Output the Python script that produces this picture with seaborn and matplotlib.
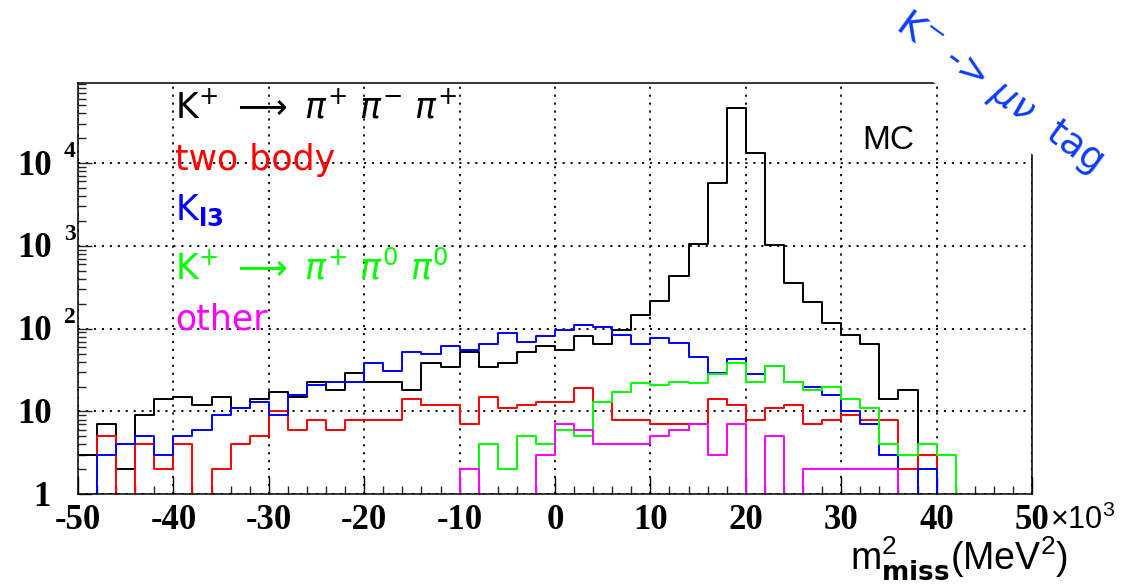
import numpy as np
import pandas as pd
import matplotlib
matplotlib.use("Agg")
import matplotlib.pyplot as plt
import seaborn as sns
from matplotlib import ticker, transforms

# ---- histogram contents: 50 bins of 2x10^3 MeV^2 between -50 and 50 (x10^3) ----
bin_edges = list(np.linspace(-50, 50, 51))

k3pi_charged = [3, 7, 2, 9, 14, 15, 12, 15, 11, 14,
                17, 15, 23, 18, 29, 23, 23, 18, 38, 34,
                52, 34, 39, 52, 61, 56, 81, 66, 96, 147,
                216, 434, 1055, 5700, 45900, 13400, 1030, 359, 212, 116,
                85, 66, 14, 18, 0, 0, 0, 0, 0, 0]
two_body = [0, 5, 0, 4, 2, 4, 0, 2, 4, 5,
            10, 6, 8, 6, 8, 8, 8, 14, 12, 12,
            7, 15, 11, 12, 13, 13, 19, 13, 8, 8,
            7, 7, 7, 14, 12, 8, 11, 12, 7, 8,
            9, 8, 8, 2, 3, 0, 0, 0, 0, 0]
k_l3 = [0, 3, 4, 5, 3, 5, 6, 9, 11, 13,
        9, 16, 21, 23, 23, 38, 31, 52, 49, 62,
        55, 66, 88, 70, 81, 96, 112, 106, 85, 65,
        78, 68, 46, 29, 43, 28, 35, 23, 20, 16,
        10, 7, 3, 0, 2, 0, 0, 0, 0, 0]
k3pi_neutral = [0, 0, 0, 0, 0, 0, 0, 0, 0, 0,
                0, 0, 0, 0, 0, 0, 0, 0, 0, 0,
                0, 4, 2, 5, 4, 6, 5, 13, 17, 22,
                21, 23, 22, 28, 38, 23, 35, 23, 18, 20,
                14, 11, 4, 3, 4, 3, 0, 0, 0, 0]
other = [0, 0, 0, 0, 0, 0, 0, 0, 0, 0,
         0, 0, 0, 0, 0, 0, 0, 0, 0, 0,
         2, 0, 0, 0, 3, 7, 6, 4, 4, 4,
         5, 6, 7, 3, 7, 0, 5, 0, 2, 2,
         2, 2, 2, 0, 0, 0, 0, 0, 0, 0]

series_labels = [r"K$^{+}$ $\longrightarrow$ $\pi^{+}$ $\pi^{-}$ $\pi^{+}$",
                 "two body",
                 r"K$_{\mathbf{l3}}$",
                 r"K$^{+}$ $\longrightarrow$ $\pi^{+}$ $\pi^{0}$ $\pi^{0}$",
                 "other"]
series_colors = ["#000000", "#ff0000", "#0000ff", "#00ff00", "#ff00ff"]

xtick_values = [-50, -40, -30, -20, -10, 0, 10, 20, 30, 40, 50]
xtick_labels = ["-50", "-40", "-30", "-20", "-10", "0", "10", "20", "30", "40", "50"]
ytick_values = [1, 10, 100, 1000, 10000]
ytick_base = ["1", "10", "10", "10", "10"]
ytick_exp = ["", "", "2", "3", "4"]

W, H = 1138, 584


def fig_xy(x, y):
    """Pixel position (from top-left) to figure fraction."""
    return x / W, 1 - y / H


sns.set_theme(style="white")
plt.rcParams["font.family"] = ["DejaVu Sans"]
plt.rcParams["mathtext.fontset"] = "dejavusans"

fig = plt.figure(figsize=(W / 100, H / 100), dpi=100)
fig.patch.set_facecolor("white")
ax_left, ax_right, ax_top, ax_bottom = 78, 1032, 82.7, 494.3
ax = fig.add_axes([ax_left / W, 1 - ax_bottom / H,
                   (ax_right - ax_left) / W, (ax_bottom - ax_top) / H])
ax.set_facecolor("white")

centers = [0.5 * (a + b) for a, b in zip(bin_edges[:-1], bin_edges[1:])]
hist_data = pd.DataFrame({
    "m2miss": centers,
    "k3pi_charged": k3pi_charged,
    "two_body": two_body,
    "k_l3": k_l3,
    "k3pi_neutral": k3pi_neutral,
    "other": other,
})
for col, color in zip(["k3pi_charged", "two_body", "k_l3", "k3pi_neutral", "other"],
                      series_colors):
    sns.histplot(data=hist_data, x="m2miss", weights=col, bins=bin_edges,
                 element="step", fill=False, color=color, linewidth=1.4, ax=ax)

ax.set_yscale("log")
ax.set_xlim(-50, 50)
ax.set_ylim(1, 9.35e4)
ax.set_xlabel("")
ax.set_ylabel("")

# frame and ticks
for side in ["left", "right", "top", "bottom"]:
    ax.spines[side].set_visible(True)
    ax.spines[side].set_color("black")
    ax.spines[side].set_linewidth(1.1)

ax.set_xticks(xtick_values, labels=xtick_labels)
ax.xaxis.set_minor_locator(ticker.MultipleLocator(2))
ax.yaxis.set_major_locator(ticker.FixedLocator(ytick_values))
ax.yaxis.set_minor_locator(ticker.LogLocator(base=10, subs=np.arange(2, 10), numticks=20))
ax.yaxis.set_major_formatter(ticker.NullFormatter())
ax.yaxis.set_minor_formatter(ticker.NullFormatter())

ax.tick_params(axis="x", which="major", direction="in", length=12, width=1.0,
               top=False, bottom=True, pad=7, labelsize=25, colors="black")
ax.tick_params(axis="x", which="minor", direction="in", length=6, width=1.0,
               top=False, bottom=True)
ax.tick_params(axis="y", which="major", direction="in", length=10, width=1.0,
               left=True, right=False)
ax.tick_params(axis="y", which="minor", direction="in", length=5.5, width=1.0,
               left=True, right=False)
for lab in ax.get_xticklabels():
    lab.set_fontfamily("Liberation Serif")
    lab.set_fontweight("bold")

# dotted grid on major divisions
ax.grid(True, which="major", axis="both", color="black",
        linestyle=(0, (1.2, 3.2)), linewidth=1.3)
ax.set_axisbelow(True)

# y tick labels in ROOT style: "10" with a raised exponent
ylab_tr = transforms.blended_transform_factory(fig.transFigure, ax.transData)
for val, base, exp in zip(ytick_values, ytick_base, ytick_exp):
    base_tr = transforms.offset_copy(ylab_tr, fig=fig, x=0, y=-11.5, units="dots")
    right_px = 50 if base == "1" else 52
    ax.text(right_px / W, val, base, transform=base_tr, ha="right", va="baseline",
            fontsize=25, fontweight="bold", fontfamily="Liberation Serif",
            color="black", clip_on=False)
    if exp:
        exp_tr = transforms.offset_copy(ylab_tr, fig=fig, x=0, y=6, units="dots")
        ax.text(64 / W, val, exp, transform=exp_tr, ha="left", va="baseline",
                fontsize=17, fontweight="bold", fontfamily="Liberation Serif",
                color="black", clip_on=False)

# x10^3 multiplier and axis title
fig.text(*fig_xy(1050, 529), r"×10$^{\mathregular{3}}$", ha="left", va="baseline",
         fontsize=22, fontfamily="Liberation Sans", color="black")
fig.text(*fig_xy(1068, 570), r"m$^{\mathregular{2}}_{\mathbf{miss}}$(MeV$^{\mathregular{2}}$)",
         ha="right", va="baseline", fontsize=27, fontfamily="Liberation Sans",
         color="black")

# component labels
label_baselines = [118, 170, 220, 279, 330]
for text, color, yb in zip(series_labels, series_colors, label_baselines):
    fig.text(*fig_xy(175, yb), text, ha="left", va="baseline", fontsize=25,
             color=color, fontfamily="DejaVu Sans")

fig.text(*fig_xy(862, 149), "MC", ha="left", va="baseline", fontsize=24,
         fontfamily="Liberation Sans", color="black")

# tag annotation across the upper-right corner
fig.text(*fig_xy(999, 92), r"K$^{-}$ -> $\mu\nu$  tag", ha="center",
         va="center", rotation=-36, rotation_mode="anchor", fontsize=27,
         color="#0a3cff", fontfamily="DejaVu Sans", zorder=10,
         bbox=dict(boxstyle="square,pad=0.3", facecolor="white", edgecolor="none"))

fig.savefig("out.png", dpi=100, facecolor="white")
